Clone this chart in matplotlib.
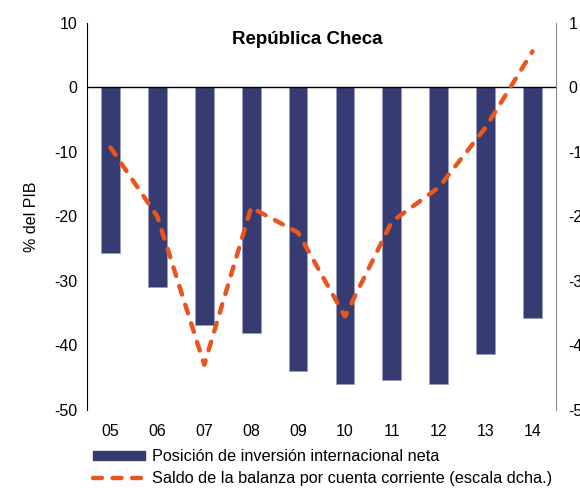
import matplotlib.pyplot as plt
import numpy as np
from matplotlib.lines import Line2D
from matplotlib.patches import Patch

plt.rcParams['font.family'] = ['Liberation Sans', 'DejaVu Sans']
plt.rcParams['axes.unicode_minus'] = False

years = ['05', '06', '07', '08', '09', '10', '11', '12', '13', '14']
piin = [-25.6, -30.9, -36.9, -38.0, -44.0, -46.0, -45.3, -46.0, -41.4, -35.7]
saldo = [-0.93, -2.0, -4.3, -1.86, -2.25, -3.55, -2.08, -1.55, -0.62, 0.56]

bar_color = '#363c72'
line_color = '#e8561e'
fs = 11.5

fig = plt.figure(figsize=(5.8, 4.88), dpi=100)
ax = fig.add_axes([0.15, 0.16, 0.8086, 0.7929])
x = np.arange(len(years))

ax.bar(x, piin, width=0.4, color=bar_color, edgecolor='#9a9cc0', linewidth=0.6, zorder=2)
ax.axhline(0, color='black', linewidth=1, zorder=3)
ax.set_xlim(-0.5, 9.5)
ax.set_ylim(-50, 10)
ax.set_yticks(range(-50, 11, 10))
ax.set_xticks(x)
ax.set_xticklabels(years)
ax.tick_params(axis='both', length=0, labelsize=fs)
ax.tick_params(axis='y', pad=7)
ax.tick_params(axis='x', pad=10)
for s in ['top', 'bottom', 'right']:
    ax.spines[s].set_visible(False)
ax.spines['left'].set_color('black')
ax.set_ylabel('% del PIB', fontsize=fs, labelpad=11)

ax2 = ax.twinx()
ax2.plot(x, saldo, color=line_color, linewidth=3.2, dashes=(2.0, 2.4),
         dash_capstyle='round', zorder=4)
ax2.set_ylim(-5, 1)
ax2.set_yticks(range(-5, 2))
ax2.tick_params(axis='y', length=0, labelsize=fs, pad=9)
for s in ['top', 'bottom', 'left']:
    ax2.spines[s].set_visible(False)
ax2.spines['right'].set_color('#888888')

ax.text(4.2, 7.4, 'República Checa', ha='center', va='center',
        fontsize=13.5, fontweight='bold')

handles = [Patch(facecolor=bar_color, edgecolor=bar_color),
           Line2D([0], [0], color=line_color, linewidth=3.2, dashes=(2.0, 2.4),
                  dash_capstyle='round')]
labels = ['Posición de inversión internacional neta',
          'Saldo de la balanza por cuenta corriente (escala dcha.)']
fig.legend(handles, labels, loc='upper left', bbox_to_anchor=(0.16, 0.08),
           frameon=False, fontsize=11.7, handlelength=3.2, handleheight=0.5,
           handletextpad=0.45, labelspacing=0.45, borderaxespad=0, borderpad=0)

fig.savefig('out.png', dpi=100)
